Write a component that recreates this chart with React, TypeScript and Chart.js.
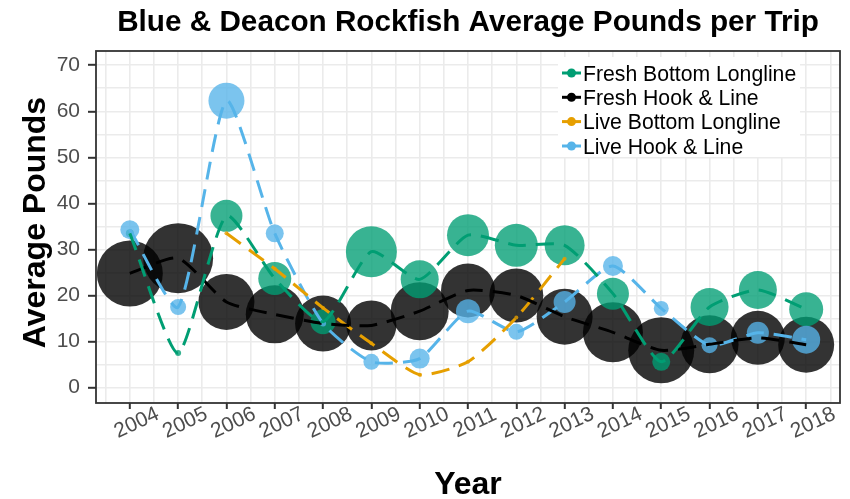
import React, { useEffect, useRef } from 'react';
import { Chart, registerables } from 'chart.js';

Chart.register(...registerables);

// ---------- data ----------
const years = [2004, 2005, 2006, 2007, 2008, 2009, 2010, 2011, 2012, 2013, 2014, 2015, 2016, 2017, 2018];
const yearLabels = ['2004', '2005', '2006', '2007', '2008', '2009', '2010', '2011', '2012', '2013', '2014', '2015', '2016', '2017', '2018'];
const yTickValues = [0, 10, 20, 30, 40, 50, 60, 70];
const yTickLabels = ['0', '10', '20', '30', '40', '50', '60', '70'];

const seriesNames = ['Fresh Bottom Longline', 'Fresh Hook & Line', 'Live Bottom Longline', 'Live Hook & Line'];

const freshBottomLongline = [33.5, 7.5, 37.3, 23.7, 14.3, 29.5, 23.5, 33.1, 30.9, 30.9, 20.4, 5.6, 17.5, 21.2, 17.0];
const freshBottomLonglineSize = [4, 3, 16, 16.5, 12.5, 25.5, 19, 21, 21.5, 20, 16, 9, 19, 19, 17];

const freshHookLine = [24.8, 28.1, 18.6, 15.9, 13.9, 13.5, 16.6, 21.1, 20.0, 15.4, 12.0, 8.1, 9.4, 10.8, 9.3];
const freshHookLineSize = [33, 35, 28, 29, 28, 25, 29, 27, 27, 28, 30, 33, 29, 27, 28];

const liveBottomLongline = [null, null, 33.5, 25.8, 17.3, 9.6, 2.8, 5.6, 15.2, 28.0, null, null, null, null, null];
const liveBottomLonglineSize = [0, 0, 2, 2, 2, 2, 2, 2, 2, 2, 0, 0, 0, 0, 0];

const liveHookLine = [34.3, 17.5, 62.3, 33.5, 13.9, 5.6, 6.3, 16.6, 12.1, 18.6, 26.4, 17.2, 9.2, 11.9, 10.4];
const liveHookLineSize = [9.5, 8, 18, 9, 3, 8, 10, 12, 8, 11, 10, 7.5, 8, 11, 14];

// ---------- styling ----------
const COLORS = ['#009E73', '#000000', '#E69F00', '#56B4E9'];
const FILLS = ['rgba(0,158,115,0.78)', 'rgba(0,0,0,0.8)', 'rgba(230,159,0,0.8)', 'rgba(86,180,233,0.78)'];
const FONT = '"Liberation Sans", Arial, Helvetica, sans-serif';

const X_MIN = 2003.3;
const X_MAX = 2018.7;
const Y_MIN = -3.35;
const Y_MAX = 73.1;

function toPoints(vals: (number | null)[]) {
  return years.map((yr, i) => ({ x: yr, y: vals[i] }));
}

const overlayPlugin = {
  id: 'overlay',
  afterDraw(chart: any) {
    const { ctx, chartArea: ca, scales } = chart;
    ctx.save();

    // panel border
    ctx.strokeStyle = '#333333';
    ctx.lineWidth = 1.8;
    ctx.strokeRect(ca.left, ca.top, ca.right - ca.left, ca.bottom - ca.top);

    // x tick labels (rotated)
    ctx.fillStyle = '#4d4d4d';
    ctx.font = `21px ${FONT}`;
    years.forEach((yr, i) => {
      const x = scales.x.getPixelForValue(yr);
      ctx.save();
      ctx.translate(x + 7, ca.bottom + 20);
      ctx.rotate((-25 * Math.PI) / 180);
      ctx.textAlign = 'center';
      ctx.textBaseline = 'middle';
      ctx.fillText(yearLabels[i], 0, 0);
      ctx.restore();
    });

    // title
    ctx.fillStyle = '#000';
    ctx.font = `bold 29.7px ${FONT}`;
    ctx.textAlign = 'center';
    ctx.textBaseline = 'alphabetic';
    ctx.fillText('Blue & Deacon Rockfish Average Pounds per Trip', (ca.left + ca.right) / 2, 31);

    // x axis title
    ctx.font = `bold 32px ${FONT}`;
    ctx.fillText('Year', (ca.left + ca.right) / 2, 494);

    // y axis title
    ctx.save();
    ctx.translate(45, 222.5);
    ctx.rotate(-Math.PI / 2);
    ctx.fillText('Average Pounds', 0, 0);
    ctx.restore();

    // legend
    const lx = 558, ly = 57, lw = 242, lh = 100;
    ctx.fillStyle = '#ffffff';
    ctx.fillRect(lx, ly, lw, lh);
    const rowY = [73, 97.3, 121.6, 146];
    seriesNames.forEach((name, i) => {
      const y = rowY[i];
      ctx.strokeStyle = COLORS[i];
      ctx.lineWidth = 3;
      ctx.beginPath();
      ctx.moveTo(562, y);
      ctx.lineTo(581, y);
      ctx.stroke();
      ctx.fillStyle = COLORS[i];
      ctx.beginPath();
      ctx.arc(571.5, y, 4.5, 0, Math.PI * 2);
      ctx.fill();
      ctx.fillStyle = '#000';
      ctx.font = `21.2px ${FONT}`;
      ctx.textAlign = 'left';
      ctx.textBaseline = 'alphabetic';
      ctx.fillText(name, 583, y + 7.5);
    });

    ctx.restore();
  },
};

export default function App() {
  const canvasRef = useRef<HTMLCanvasElement | null>(null);

  useEffect(() => {
    if (!canvasRef.current) return;
    const valueSets = [freshBottomLongline, freshHookLine, liveBottomLongline, liveHookLine];
    const sizeSets = [freshBottomLonglineSize, freshHookLineSize, liveBottomLonglineSize, liveHookLineSize];
    const pointOrder = [3, 4, 2, 1];

    const pointDatasets = valueSets.map((vals, i) => ({
      type: 'scatter' as const,
      label: seriesNames[i] + ' points',
      data: toPoints(vals),
      showLine: false,
      pointRadius: sizeSets[i],
      pointHoverRadius: sizeSets[i],
      pointBackgroundColor: FILLS[i],
      pointBorderWidth: 0,
      backgroundColor: FILLS[i],
      borderColor: FILLS[i],
      order: pointOrder[i],
    }));

    const lineDatasets = valueSets.map((vals, i) => ({
      type: 'line' as const,
      label: seriesNames[i],
      data: toPoints(vals),
      borderColor: COLORS[i],
      borderWidth: 3,
      borderDash: [18, 10],
      pointRadius: 0,
      tension: 0.2,
      spanGaps: false,
      fill: false,
      order: 0,
    }));

    const chart = new Chart(canvasRef.current, {
      type: 'scatter',
      data: { datasets: [...pointDatasets, ...lineDatasets] as any },
      plugins: [overlayPlugin],
      options: {
        responsive: false,
        maintainAspectRatio: false,
        devicePixelRatio: 1,
        animation: false,
        layout: { autoPadding: false, padding: { top: 51, right: 10, left: 0, bottom: 0 } },
        plugins: {
          legend: { display: false },
          tooltip: { enabled: false },
          title: { display: false },
        },
        scales: {
          x: {
            type: 'linear',
            min: X_MIN,
            max: X_MAX,
            afterBuildTicks: (scale: any) => {
              const t: { value: number }[] = [];
              years.forEach((yr, i) => {
                if (i === 0) t.push({ value: yr - 0.5 });
                t.push({ value: yr });
                t.push({ value: yr + 0.5 });
              });
              scale.ticks = t;
            },
            afterFit: (scale: any) => {
              scale.height = 96;
            },
            ticks: { display: false },
            grid: {
              color: '#ebebeb',
              lineWidth: 1.6,
              drawTicks: true,
              tickLength: 6,
              tickWidth: 2,
              tickColor: (c: any) => (c.tick && years.includes(c.tick.value) ? '#333333' : 'rgba(0,0,0,0)'),
            },
            border: { display: false },
          },
          y: {
            type: 'linear',
            min: Y_MIN,
            max: Y_MAX,
            afterBuildTicks: (scale: any) => {
              const t: { value: number }[] = [];
              yTickValues.forEach((v, i) => {
                t.push({ value: v });
                if (i < yTickValues.length - 1) t.push({ value: v + 5 });
              });
              scale.ticks = t;
            },
            afterFit: (scale: any) => {
              scale.width = 96;
            },
            ticks: {
              autoSkip: false,
              padding: 8,
              color: '#4d4d4d',
              font: { family: FONT, size: 21 },
              callback: (v: any) => {
                const idx = yTickValues.indexOf(Number(v));
                return idx >= 0 ? yTickLabels[idx] : '';
              },
            },
            grid: {
              color: '#ebebeb',
              lineWidth: 1.6,
              drawTicks: true,
              tickLength: 8,
              tickWidth: 2,
              tickColor: (c: any) => (c.tick && yTickValues.includes(c.tick.value) ? '#333333' : 'rgba(0,0,0,0)'),
            },
            border: { display: false },
          },
        },
      },
    });
    return () => chart.destroy();
  }, []);

  return (
    <div style={{ position: 'fixed', left: 0, top: 0, width: 850, height: 499, background: '#fff' }}>
      <canvas ref={canvasRef} width={850} height={499} style={{ display: 'block' }} />
    </div>
  );
}
